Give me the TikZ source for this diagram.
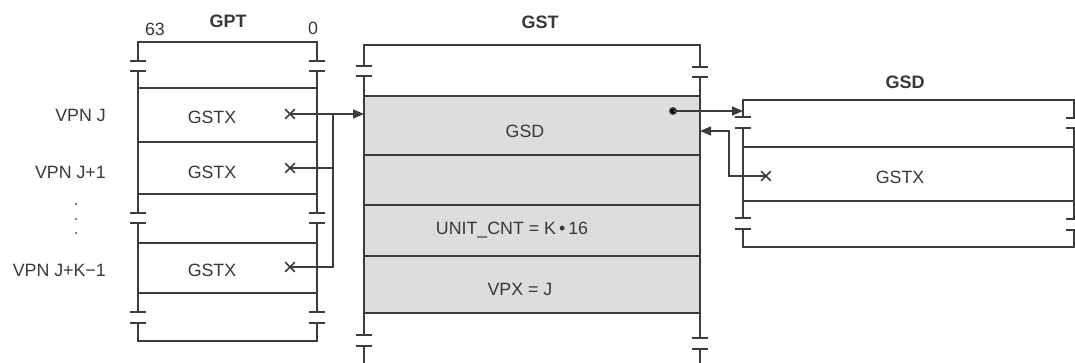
\documentclass[tikz,border=0pt]{standalone}
\usepackage{fontspec}
\setmainfont{Liberation Sans}
\usetikzlibrary{arrows.meta,shapes.misc}
\definecolor{ln}{HTML}{3C3C3C}
\definecolor{txt}{HTML}{383838}
\definecolor{gstfill}{HTML}{DDDDDD}
\newcommand\brkmark[3]{\draw[tickline] (#1-8,#2) -- (#1+8,#2) (#1-8,#3) -- (#1+8,#3);}
\begin{document}
\begin{tikzpicture}[x=1pt,y=-1pt,
  ln/.style={draw=ln,line width=1.5pt},
  thk/.style={draw=ln,line width=2.5pt},
  tickline/.style={draw=ln,line width=1.5pt},
  conn/.style={draw=ln,line width=1.5pt},
  arr/.style={conn,-{Triangle[length=11pt,width=9pt]}},
  lbl/.style={text=txt,font=\fontsize{17.8}{20}\selectfont,inner sep=0pt},
  ttl/.style={text=txt,font=\fontsize{18}{20}\selectfont\bfseries,inner sep=0pt},
  xmark/.style={cross out,draw=ln,line width=1.7pt,minimum size=8pt,inner sep=0pt}]
\useasboundingbox (0,0) rectangle (1075,363);
\fill[white] (0,0) rectangle (1075,363);
% ---------- GPT ----------
\draw[ln] (138,61) -- (138,42) -- (317,42) -- (317,61);
\draw[ln] (138,71) -- (138,213) (138,223) -- (138,312);
\draw[ln] (317,71) -- (317,213) (317,223) -- (317,312);
\draw[ln] (138,323) -- (138,341) -- (317,341) -- (317,323);
\brkmark{138}{61}{71} \brkmark{317}{61}{71}
\brkmark{138}{213}{223} \brkmark{317}{213}{223}
\brkmark{138}{312}{323} \brkmark{317}{312}{323}
\foreach \yy in {88,142,194,243,293} \draw[ln] (138,\yy) -- (317,\yy);
\node[ttl] (gpt) at (228,21) {GPT};
\node[lbl] (b63) at (155,29) {63};
\node[lbl] (b0) at (313,28) {0};
\node[lbl] (g1) at (212,117) {GSTX};
\node[lbl] (g2) at (212,172) {GSTX};
\node[lbl] (g3) at (212,270) {GSTX};
\node[lbl,anchor=east] (v1) at (106,115) {VPN J};
\node[lbl,anchor=east] (v2) at (106,172) {VPN J+1};
\node[lbl,anchor=east] (v3) at (106,270) {VPN J+K\textminus1};
\foreach \yy/\nn in {204/d1,219/d2,233/d3} \fill[txt] (76,\yy) circle (1pt) coordinate (\nn);
% ---------- GST ----------
\fill[gstfill] (364,96) rectangle (700,313);
\draw[ln] (364,66) -- (364,45) -- (700,45) -- (700,67);
\draw[ln] (364,76) -- (364,335) (364,346) -- (364,366);
\draw[ln] (700,77) -- (700,338) (700,349) -- (700,366);
\brkmark{364}{66}{76} \brkmark{700}{67}{77}
\brkmark{364}{335}{346} \brkmark{700}{338}{349}
\draw[thk] (364,96) -- (700,96);
\draw[thk] (364,313) -- (700,313);
\foreach \yy in {155,205,256} \draw[ln] (364,\yy) -- (700,\yy);
\node[ttl] (gst) at (540,22) {GST};
\node[lbl] (gsd1) at (525,131) {GSD};
\node[lbl] (unit) at (512,230) {UNIT\_CNT = K\,\textbullet\,16};
\node[lbl] (vpx) at (520,289) {VPX = J};
% ---------- GSD ----------
\draw[ln] (743,117) -- (743,100) -- (1074,100) -- (1074,118);
\draw[ln] (743,128) -- (743,218) (1074,128) -- (1074,219);
\draw[ln] (743,229) -- (743,247) -- (1074,247) -- (1074,230);
\brkmark{743}{117}{128} \brkmark{1074}{118}{128}
\brkmark{743}{218}{229} \brkmark{1074}{219}{230}
\foreach \yy in {147,201} \draw[ln] (743,\yy) -- (1074,\yy);
\node[ttl] (gsdt) at (905,82) {GSD};
\node[lbl] (g4) at (900,177) {GSTX};
% ---------- connectors ----------
\node[xmark] (x1) at (290,114) {};
\node[xmark] (x2) at (290,168) {};
\node[xmark] (x3) at (290,267) {};
\node[xmark] (x4) at (766,176) {};
\coordinate (gstL) at (364,114);
\coordinate (busT) at (333,114);
\coordinate (busB) at (333,267);
\draw[arr] (x1.center) -- (gstL);
\draw[conn] (x3.center) -- (busB) -- (busT);
\draw[conn] (x2.center) -- (x2.center -| busB);
\fill[ln] (673,111) circle (3.2pt) coordinate (dot);
\coordinate (gsdIn) at (743,111);
\draw[arr] (dot) -- (gsdIn);
\coordinate (bend) at (729,176);
\coordinate (gstR) at (700,131);
\draw[arr] (x4.center) -- (bend) |- (gstR);
\end{tikzpicture}
\end{document}
